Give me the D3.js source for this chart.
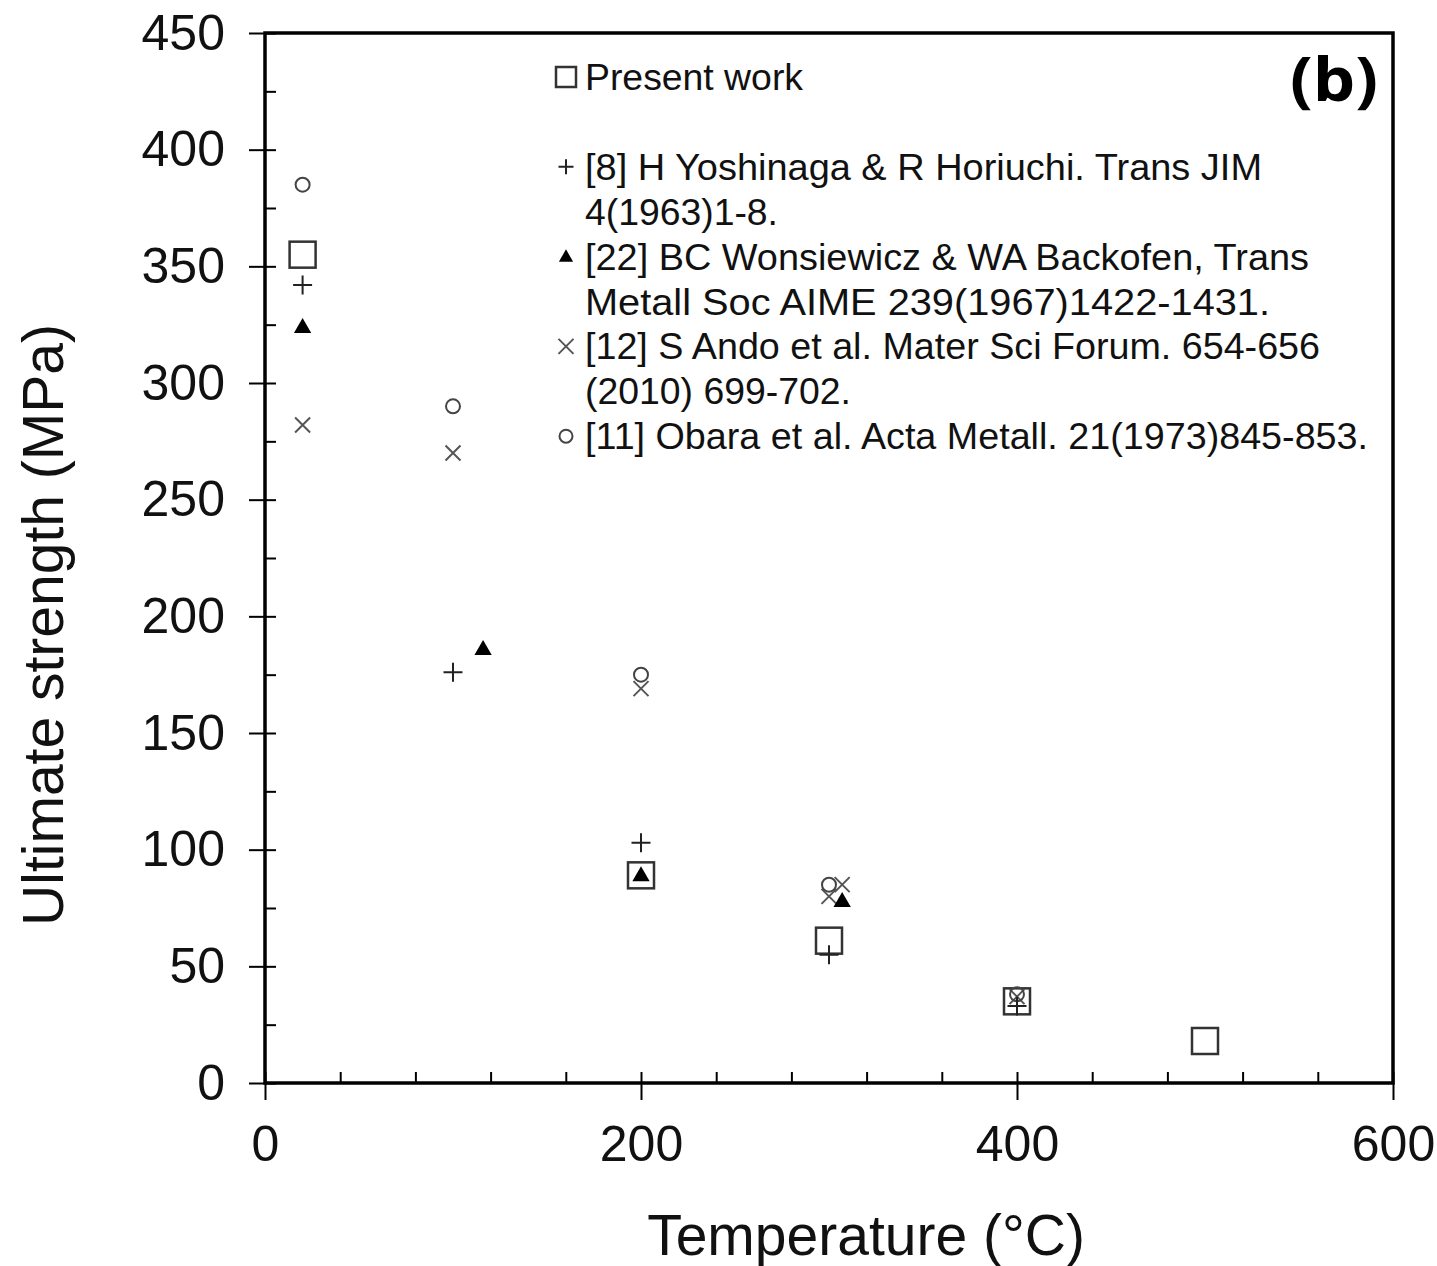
<!DOCTYPE html>
<html><head><meta charset="utf-8">
<script src="https://cdn.jsdelivr.net/npm/d3@7"></script>
<style>body{margin:0;background:#fff}svg{display:block}text{font-family:"Liberation Sans",Arial,sans-serif}</style>
</head><body>
<script>
// Data
const presentT = [20, 200, 300, 400, 500];
const presentU = [355, 89, 61, 35, 18];
const yoshT = [20, 100, 200, 300, 400];
const yoshU = [342, 176, 103, 55, 33];
const wonsT = [20, 116, 200, 307];
const wonsU = [324, 186, 89, 78];
const andoT = [20, 100, 200, 300, 307, 400];
const andoU = [282, 270, 169, 80, 85, 37];
const obaraT = [20, 100, 200, 300, 400];
const obaraU = [385, 290, 175, 85, 38];
const xTicks = [0, 200, 400, 600];
const yTicks = [0, 50, 100, 150, 200, 250, 300, 350, 400, 450];
const legendLines = [
  ["square", "Present work"],
  [null, ""],
  ["plus", "[8] H Yoshinaga & R Horiuchi. Trans JIM"],
  [null, "4(1963)1-8."],
  ["tri", "[22] BC Wonsiewicz & WA Backofen, Trans"],
  [null, "Metall Soc AIME 239(1967)1422-1431."],
  ["cross", "[12] S Ando et al. Mater Sci Forum. 654-656"],
  [null, "(2010) 699-702."],
  ["circle", "[11] Obara et al. Acta Metall. 21(1973)845-853."]
];
const legendWidths = [218, 0, 677, 193, 724, 685, 735, 266, 783];

const W = 1437, H = 1266;
const svg = d3.select("body").append("svg").attr("width", W).attr("height", H);
const x = d3.scaleLinear([0, 600], [265, 1393]);
const y = d3.scaleLinear([0, 450], [1083, 33]);

// minor ticks
const gxm = svg.append("g").attr("transform", `translate(0,${y(0)})`)
  .call(d3.axisBottom(x).tickValues(d3.range(0, 601, 40)).tickSize(-11).tickFormat(""));
const gym = svg.append("g").attr("transform", `translate(${x(0)},0)`)
  .call(d3.axisLeft(y).tickValues(d3.range(0, 451, 25)).tickSize(-11).tickFormat(""));
// major ticks
const gx = svg.append("g").attr("transform", `translate(0,${y(0)})`)
  .call(d3.axisBottom(x).tickValues(xTicks).tickSize(17).tickPadding(25).tickFormat(d3.format("d")));
const gy = svg.append("g").attr("transform", `translate(${x(0)},0)`)
  .call(d3.axisLeft(y).tickValues(yTicks).tickSize(16).tickPadding(24).tickFormat(d3.format("d")));
[gxm, gym, gx, gy].forEach(g => {
  g.select(".domain").remove();
  g.selectAll("line").attr("stroke", "#000").attr("stroke-width", 2);
  g.selectAll("text").attr("font-size", 50).attr("fill", "#111")
    .style("font-family", '"Liberation Sans",Arial,sans-serif');
});
// frame
svg.append("rect").attr("x", x(0)).attr("y", y(450)).attr("width", x(600) - x(0)).attr("height", y(0) - y(450))
  .attr("fill", "none").attr("stroke", "#000").attr("stroke-width", 3.5);

// axis titles
svg.append("text").attr("x", 866).attr("y", 1255).attr("text-anchor", "middle").attr("font-size", 57)
  .attr("fill", "#111").text("Temperature (°C)");
svg.append("text").attr("transform", "translate(63,625) rotate(-90)").attr("text-anchor", "middle")
  .attr("font-size", 57).attr("fill", "#111").text("Ultimate strength (MPa)");
svg.append("text").attr("x", 1290).attr("y", 101).attr("font-size", 60)
  .attr("font-weight", "bold").style("font-family", '"Open Sans",sans-serif')
  .attr("textLength", 88).attr("lengthAdjust", "spacingAndGlyphs").text("(b)");

// marker drawing
function marker(g, type, s) {
  if (type === "square") {
    g.append("rect").attr("x", -s / 2).attr("y", -s / 2).attr("width", s).attr("height", s)
      .attr("fill", "none").attr("stroke", "#333").attr("stroke-width", 2.5);
  } else if (type === "plus") {
    g.append("path").attr("d", `M${-s/2},0H${s/2}M0,${-s/2}V${s/2}`).attr("stroke", "#222").attr("stroke-width", 2);
  } else if (type === "tri") {
    g.append("path").attr("d", d3.symbol(d3.symbolTriangle, s * s * 0.45)()).attr("fill", "#000")
      .attr("transform", "translate(0,1)");
  } else if (type === "cross") {
    const h = s / 2;
    g.append("path").attr("d", `M${-h},${-h}L${h},${h}M${-h},${h}L${h},${-h}`).attr("stroke", "#555").attr("stroke-width", 2);
  } else if (type === "circle") {
    g.append("circle").attr("r", s / 2).attr("fill", "none").attr("stroke", "#444").attr("stroke-width", 2);
  }
}
function series(T, U, type, s) {
  T.forEach((t, i) => {
    const g = svg.append("g").attr("transform", `translate(${x(t)},${y(U[i])})`);
    marker(g, type, s);
  });
}
series(presentT, presentU, "square", 26);
series(andoT, andoU, "cross", 15);
series(obaraT, obaraU, "circle", 14);
series(yoshT, yoshU, "plus", 19);
series(wonsT, wonsU, "tri", 17);

// legend
const ly0 = 77, lstep = 44.9;
legendLines.forEach((d, i) => {
  if (!d[1]) return;
  const yy = ly0 + i * lstep;
  if (d[0]) {
    const g = svg.append("g").attr("transform", `translate(566,${yy})`);
    marker(g, d[0], d[0] === "square" ? 20 : d[0] === "circle" ? 13 : d[0] === "tri" ? 14 : 15);
  }
  svg.append("text").attr("x", 585).attr("y", yy + 13).attr("font-size", 36).attr("fill", "#111")
    .attr("textLength", legendWidths[i]).attr("lengthAdjust", "spacingAndGlyphs").text(d[1]);
});
</script>
</body></html>
